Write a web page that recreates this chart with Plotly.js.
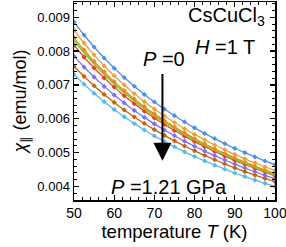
<!DOCTYPE html>
<html>
<head>
<meta charset="utf-8">
<script src="https://cdn.plot.ly/plotly-3.0.1.min.js"></script>
<style>html,body{margin:0;padding:0;background:#fff;}#chart{width:286px;height:247px;}</style>
</head>
<body>
<div id="chart"></div>
<script>
// temperature (K)
const temperature = [50, 52.5, 55, 57.5, 60, 62.5, 65, 67.5, 70, 72.5, 75, 77.5, 80, 82.5, 85, 87.5, 90, 92.5, 95, 97.5, 100];

// susceptibility chi_parallel (emu/mol), curves from P = 0 (top) to P = 1.21 GPa (bottom)
const chiBlue    = [0.008860, 0.008474, 0.008121, 0.007796, 0.007496, 0.007218, 0.006961, 0.006720, 0.006496, 0.006287, 0.006090, 0.005906, 0.005732, 0.005568, 0.005413, 0.005267, 0.005128, 0.004997, 0.004872, 0.004753, 0.004640];
const chiOrange  = [0.008620, 0.008238, 0.007888, 0.007567, 0.007271, 0.006997, 0.006743, 0.006506, 0.006286, 0.006080, 0.005888, 0.005707, 0.005537, 0.005376, 0.005225, 0.005082, 0.004947, 0.004818, 0.004697, 0.004581, 0.004470];
const chiOrange2 = [0.008400, 0.008031, 0.007693, 0.007383, 0.007097, 0.006832, 0.006586, 0.006357, 0.006144, 0.005944, 0.005757, 0.005582, 0.005417, 0.005261, 0.005114, 0.004975, 0.004843, 0.004718, 0.004600, 0.004487, 0.004380];
const chiGreen   = [0.008320, 0.007956, 0.007623, 0.007317, 0.007035, 0.006774, 0.006531, 0.006305, 0.006094, 0.005897, 0.005713, 0.005539, 0.005376, 0.005222, 0.005076, 0.004939, 0.004809, 0.004685, 0.004568, 0.004456, 0.004350];
const chiRed     = [0.008171, 0.007823, 0.007502, 0.007208, 0.006935, 0.006682, 0.006447, 0.006228, 0.006024, 0.005832, 0.005652, 0.005483, 0.005324, 0.005174, 0.005032, 0.004897, 0.004770, 0.004649, 0.004534, 0.004425, 0.004320];
const chiPurple  = [0.007850, 0.007528, 0.007232, 0.006957, 0.006703, 0.006467, 0.006247, 0.006041, 0.005849, 0.005668, 0.005498, 0.005338, 0.005187, 0.005045, 0.004910, 0.004782, 0.004660, 0.004545, 0.004435, 0.004330, 0.004230];
const chiBrown   = [0.007550, 0.007252, 0.006976, 0.006720, 0.006482, 0.006261, 0.006054, 0.005861, 0.005679, 0.005508, 0.005348, 0.005196, 0.005053, 0.004917, 0.004789, 0.004667, 0.004551, 0.004441, 0.004336, 0.004236, 0.004140];
const chiLight   = [0.007311, 0.007021, 0.006752, 0.006504, 0.006273, 0.006058, 0.005857, 0.005669, 0.005493, 0.005327, 0.005171, 0.005024, 0.004885, 0.004754, 0.004629, 0.004511, 0.004398, 0.004292, 0.004190, 0.004093, 0.004000];

// arrow from P = 0 to P = 1.21 GPa
const arrowT = 72;
const arrowStart = 0.00737;
const arrowEnd = 0.00476;

const FONT = 'Liberation Sans, Arial, Helvetica, sans-serif';

function series(y, color, withMarkers, width) {
  return {
    x: temperature, y: y, type: 'scatter',
    mode: withMarkers ? 'lines+markers' : 'lines',
    line: {color: color, width: width, shape: 'spline'},
    marker: {color: color, size: 4, symbol: 'diamond'},
    hoverinfo: 'skip'
  };
}

const data = [
  series(chiLight,   '#5cb8e6', true, 1.3),
  series(chiBrown,   '#c4620f', true, 1.3),
  series(chiPurple,  '#7b70f0', true, 1.3),
  series(chiRed,     '#ea3b2a', true, 1.3),
  series(chiGreen,   '#7fd11a', false, 2),
  series(chiOrange2, '#df8a28', true, 1.3),
  series(chiOrange,  '#eea038', true, 1.3),
  series(chiBlue,    '#4f90e2', true, 1.3)
];

function label(text, x, y) {
  return {xref: 'paper', yref: 'paper', x: x, y: y, xanchor: 'center', yanchor: 'middle',
          text: text, showarrow: false, font: {size: 20, family: FONT, color: '#000'}};
}

const layout = {
  width: 286, height: 247,
  margin: {l: 74, r: 11, t: 2, b: 47, pad: 0},
  paper_bgcolor: '#fff', plot_bgcolor: '#fff',
  showlegend: false,
  font: {family: FONT, color: '#000'},
  xaxis: {
    range: [50, 100], dtick: 10, tick0: 50,
    ticks: 'inside', ticklen: 5, tickwidth: 1.2, tickcolor: '#000',
    minor: {dtick: 2, ticks: 'inside', ticklen: 3, tickwidth: 1, tickcolor: '#000'},
    showline: true, linewidth: 1.5, linecolor: '#000', mirror: 'allticks',
    showgrid: false, zeroline: false, ticklabeloverflow: 'allow',
    tickfont: {size: 14, family: FONT},
    title: {text: 'temperature <i>T</i> (K)', font: {size: 18.5, family: FONT}, standoff: 3}
  },
  yaxis: {
    range: [0.0036, 0.00945], dtick: 0.001, tick0: 0.004, tickformat: '.3f',
    ticks: 'inside', ticklen: 5, tickwidth: 1.2, tickcolor: '#000',
    minor: {dtick: 0.0002, ticks: 'inside', ticklen: 3, tickwidth: 1, tickcolor: '#000'},
    showline: true, linewidth: 1.5, linecolor: '#000', mirror: 'allticks',
    showgrid: false, zeroline: false,
    tickfont: {size: 13, family: FONT},
    title: {text: '<i>χ</i><sub>∥</sub> (emu/mol)', font: {size: 18, family: FONT}, standoff: 6}
  },
  annotations: [
    label('CsCuCl<sub>3</sub>', 0.761, 0.925),
    label('<i>H</i> =1 T', 0.751, 0.773),
    label('<i>P</i> =0', 0.448, 0.712),
    label('<i>P</i> =1.21 GPa', 0.473, 0.066),
    {x: arrowT, y: arrowEnd, xref: 'x', yref: 'y', ax: arrowT, ay: arrowStart, axref: 'x', ayref: 'y',
     text: '', showarrow: true, arrowhead: 2, arrowsize: 1.8, arrowwidth: 2, arrowcolor: '#000'}
  ]
};

Plotly.newPlot('chart', data, layout, {staticPlot: true, displayModeBar: false});
</script>
</body>
</html>
